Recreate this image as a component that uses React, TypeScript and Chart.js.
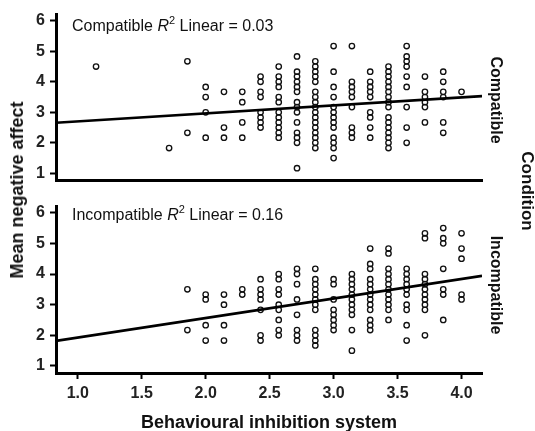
import React, { useEffect, useRef } from "react";
import { Chart, registerables } from "chart.js";

Chart.register(...registerables);

// ---- Axes ----
const xTicks = [1.0, 1.5, 2.0, 2.5, 3.0, 3.5, 4.0];
const yTicks = [1, 2, 3, 4, 5, 6];
const X_MIN = 0.83;
const X_MAX = 4.16;
const Y_MIN = 0.77;
const Y_MAX = 6.2;

// ---- Compatible condition ----
const compatibleBis = [1.143, 1.714, 1.857, 2.0, 2.143, 2.286, 2.429, 2.571, 2.714, 2.857, 3.0, 3.143, 3.286, 3.429, 3.571, 3.714, 3.857, 4.0];
const compatibleAffect: number[][] = [
  [4.5],
  [1.83],
  [4.67, 2.33],
  [3.83, 3.5, 3.0, 2.17],
  [3.67, 2.5, 2.17],
  [3.67, 3.33, 2.67, 2.17],
  [4.17, 4.0, 3.67, 3.5, 3.0, 2.83, 2.67, 2.5],
  [4.5, 4.17, 4.0, 3.83, 3.5, 3.33, 3.0, 2.83, 2.67, 2.5, 2.33, 2.17],
  [4.83, 4.33, 4.17, 4.0, 3.83, 3.67, 3.33, 3.17, 3.0, 2.67, 2.33, 2.17, 2.0, 1.17],
  [4.67, 4.5, 4.33, 4.17, 4.0, 3.67, 3.5, 3.33, 3.17, 3.0, 2.83, 2.67, 2.5, 2.33, 2.17, 2.0, 1.83],
  [5.17, 4.33, 3.83, 3.5, 3.17, 3.0, 2.83, 2.67, 2.5, 2.17, 2.0, 1.83, 1.5],
  [5.17, 4.0, 3.83, 3.67, 3.5, 3.17, 2.5, 2.33, 2.17],
  [4.33, 4.0, 3.83, 3.67, 3.5, 3.0, 2.83, 2.5, 2.17],
  [4.5, 4.33, 4.17, 4.0, 3.83, 3.67, 3.5, 3.33, 3.17, 2.83, 2.67, 2.5, 2.33, 2.17, 2.0, 1.83],
  [5.17, 4.83, 4.67, 4.5, 4.17, 3.83, 3.17, 2.5, 2.0],
  [4.17, 3.67, 3.5, 3.33, 3.17, 2.67],
  [4.33, 4.0, 3.67, 3.5, 2.67, 2.33],
  [3.67],
];
const compatibleFit = { intercept: 2.443, slope: 0.261 };

// ---- Incompatible condition ----
const incompatibleBis = [1.857, 2.0, 2.143, 2.286, 2.429, 2.571, 2.714, 2.857, 3.0, 3.143, 3.286, 3.429, 3.571, 3.714, 3.857, 4.0];
const incompatibleAffect: number[][] = [
  [3.5, 2.17],
  [3.33, 3.17, 2.33, 1.83],
  [3.33, 3.0, 2.33, 1.83],
  [3.5, 3.33],
  [3.83, 3.5, 3.33, 3.17, 2.83, 2.0, 1.83],
  [4.0, 3.83, 3.5, 3.33, 3.0, 2.83, 2.5, 2.17, 2.0],
  [4.17, 4.0, 3.67, 3.17, 2.67, 2.17, 2.0, 1.83],
  [4.17, 3.83, 3.67, 3.5, 3.33, 3.17, 3.0, 2.83, 2.17, 2.0, 1.83, 1.67],
  [3.83, 3.67, 3.17, 2.83, 2.67, 2.5, 2.33, 2.17],
  [4.0, 3.83, 3.67, 3.5, 3.33, 3.17, 3.0, 2.83, 2.67, 2.17, 1.5],
  [4.83, 4.33, 4.17, 3.83, 3.67, 3.5, 3.33, 3.17, 3.0, 2.83, 2.5, 2.33, 2.17],
  [4.83, 4.67, 4.17, 4.0, 3.83, 3.67, 3.5, 3.33, 3.17, 3.0, 2.83, 2.5],
  [4.17, 4.0, 3.83, 3.67, 3.5, 3.33, 3.0, 2.83, 2.33, 1.83],
  [5.33, 5.17, 4.0, 3.83, 3.67, 3.5, 3.33, 3.17, 3.0, 2.83, 2.0],
  [5.5, 5.17, 5.0, 4.17, 3.5, 3.33, 2.5],
  [5.33, 4.83, 4.5, 3.33, 3.17],
];
const incompatibleFit = { intercept: 1.29, slope: 0.637 };

const FONT = 'Arial, "Liberation Sans", Helvetica, sans-serif';

function buildPoints(bis: number[], affect: number[][]) {
  const pts: { x: number; y: number }[] = [];
  bis.forEach((x, i) => affect[i].forEach((y) => pts.push({ x, y })));
  return pts;
}

function makePanel(
  canvas: HTMLCanvasElement,
  bis: number[],
  affect: number[][],
  fit: { intercept: number; slope: number },
  isBottom: boolean
) {
  const fitLine = [X_MIN, X_MAX].map((x) => ({ x, y: fit.intercept + fit.slope * x }));
  return new Chart(canvas, {
    type: "scatter",
    data: {
      datasets: [
        {
          data: fitLine,
          showLine: true,
          borderColor: "#000",
          borderWidth: 2.6,
          pointRadius: 0,
          order: 0,
        } as any,
        {
          data: buildPoints(bis, affect),
          pointStyle: "circle",
          pointRadius: 2.7,
          pointBorderWidth: 1.35,
          pointBorderColor: "#111",
          pointBackgroundColor: "rgba(0,0,0,0)",
          borderColor: "#111",
          backgroundColor: "rgba(0,0,0,0)",
          order: 1,
        } as any,
      ],
    },
    options: {
      animation: false,
      responsive: false,
      events: [],
      layout: { padding: { top: isBottom ? 5 : 12, right: 53, bottom: 0, left: 0 } },
      plugins: { legend: { display: false }, tooltip: { enabled: false } },
      scales: {
        x: {
          type: "linear",
          min: X_MIN,
          max: X_MAX,
          afterBuildTicks: (s: any) => {
            s.ticks = xTicks.map((v) => ({ value: v }));
          },
          afterFit: (s: any) => {
            s.height = isBottom ? 64 : 7;
          },
          border: { display: true, color: "#000", width: 3 },
          grid: {
            display: true,
            drawOnChartArea: false,
            drawTicks: isBottom,
            tickLength: 6,
            tickWidth: 2,
            color: "#000",
          },
          ticks: {
            display: isBottom,
            padding: 5,
            color: "#222",
            font: { family: FONT, size: 16, weight: "bold" },
            callback: (v: any) => Number(v).toFixed(1),
          },
          title: {
            display: isBottom,
            text: "Behavioural inhibition system",
            color: "#111",
            font: { family: FONT, size: 18, weight: "bold" },
            padding: { top: 0, bottom: 3 },
          },
        },
        y: {
          type: "linear",
          min: Y_MIN,
          max: Y_MAX,
          afterBuildTicks: (s: any) => {
            s.ticks = yTicks.map((v) => ({ value: v }));
          },
          afterFit: (s: any) => {
            s.width = 56;
          },
          border: { display: true, color: "#000", width: 3 },
          grid: {
            display: true,
            drawOnChartArea: false,
            drawTicks: true,
            tickLength: 6,
            tickWidth: 2,
            color: "#000",
          },
          ticks: {
            padding: 5,
            color: "#222",
            font: { family: FONT, size: 16, weight: "bold" },
            callback: (v: any) => String(v),
          },
        },
      },
    } as any,
  });
}

const rotated = (cx: number, cy: number, size: number, deg: number): React.CSSProperties => ({
  position: "absolute",
  left: cx,
  top: cy,
  transform: `translate(-50%, -50%) rotate(${deg}deg)`,
  fontFamily: FONT,
  fontWeight: "bold",
  fontSize: size,
  color: "#111",
  whiteSpace: "nowrap",
  lineHeight: 1,
});

const annot = (top: number): React.CSSProperties => ({
  position: "absolute",
  left: 72,
  top,
  fontFamily: FONT,
  fontSize: 16,
  color: "#111",
  whiteSpace: "nowrap",
  lineHeight: "16px",
});

function Annotation({ label, r2, top }: { label: string; r2: string; top: number }) {
  return (
    <div style={annot(top)}>
      {label} <i>R</i>
      <span style={{ fontSize: 11, position: "relative", top: -7 }}>2</span> Linear = {r2}
    </div>
  );
}

export default function App() {
  const topRef = useRef<HTMLCanvasElement>(null);
  const botRef = useRef<HTMLCanvasElement>(null);

  useEffect(() => {
    const c1 = makePanel(topRef.current!, compatibleBis, compatibleAffect, compatibleFit, false);
    const c2 = makePanel(botRef.current!, incompatibleBis, incompatibleAffect, incompatibleFit, true);
    return () => {
      c1.destroy();
      c2.destroy();
    };
  }, []);

  return (
    <div style={{ position: "absolute", left: 0, top: 0, width: 535, height: 431, background: "#fff", overflow: "hidden" }}>
      <canvas ref={topRef} width={535} height={195} style={{ position: "absolute", left: 0, top: 0 }} />
      <canvas ref={botRef} width={535} height={245} style={{ position: "absolute", left: 0, top: 192 }} />
      <Annotation label="Compatible" r2="0.03" top={18} />
      <Annotation label="Incompatible" r2="0.16" top={207} />
      <div style={rotated(17, 190, 18, -90)}>Mean negative affect</div>
      <div style={rotated(496, 100, 16, 90)}>Compatible</div>
      <div style={rotated(496, 285, 16, 90)}>Incompatible</div>
      <div style={rotated(527, 191, 17, 90)}>Condition</div>
    </div>
  );
}
